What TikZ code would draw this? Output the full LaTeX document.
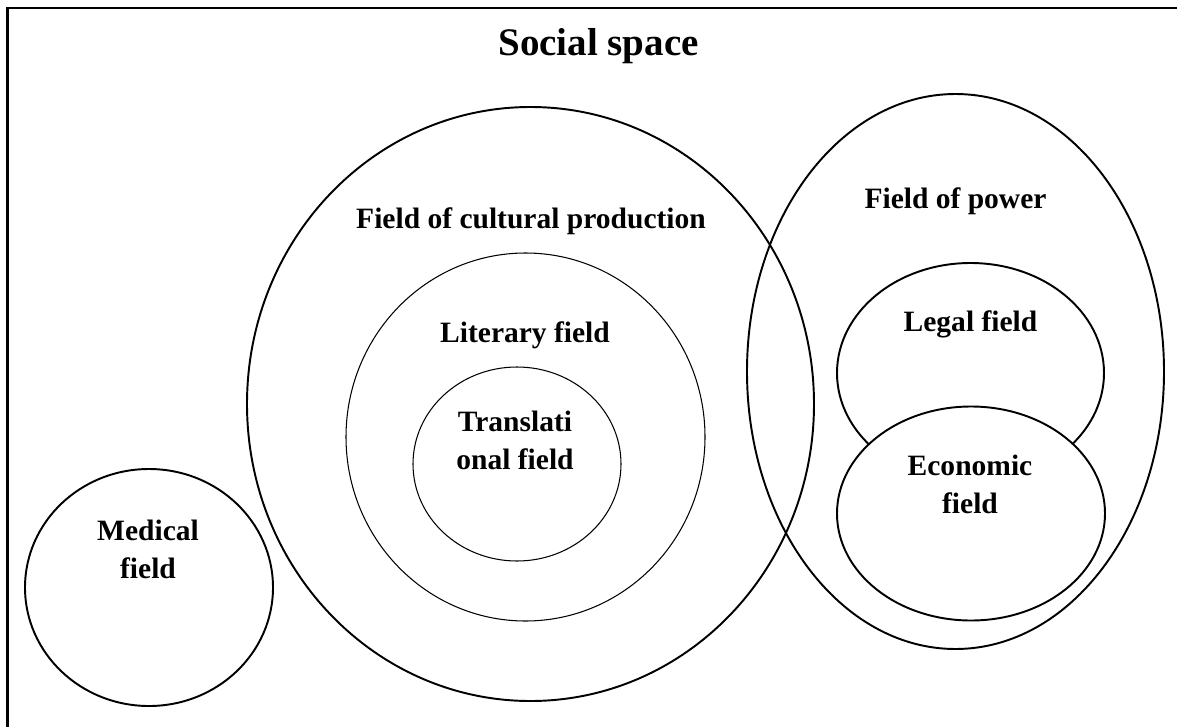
\documentclass[tikz,border=0pt]{standalone}
\usepackage{fontspec}
\setmainfont{Liberation Serif}[Ligatures=CommonOff]

\tikzset{
  field/.style={line width=1.1pt},
  subfield/.style={line width=0.6pt},
  fieldname/.style={font=\bfseries\fontsize{16.8}{21.6}\selectfont,
    align=center, inner sep=0pt, anchor=base},
}

\begin{document}
\begin{tikzpicture}[x=0.02cm, y=-0.02cm]
\useasboundingbox (0,0) rectangle (1177,727);

% frame of the social space (runs off the right and bottom)
\draw[line width=1.2pt] (7.5,727) -- (7.5,8) -- (1177,8);
\node[font=\bfseries\fontsize{22.2}{26}\selectfont, inner sep=0pt,
  anchor=base west] (social) at (498,55) {Social space};

% cultural production, with literary and translational fields inside
\draw[field] (530.5,404) ellipse [x radius=283.5, y radius=297];
\draw[subfield] (525.5,437) ellipse [x radius=179.5, y radius=184];
\draw[subfield] (517,464) ellipse [x radius=104, y radius=97];

\node[fieldname] (cultural) at (531,228) {Field of cultural production};
\node[fieldname] (literary) at (525,342) {Literary field};
% two-line names sit on the baseline of their last line
\node[fieldname] (translational) at (515,469) {Translati\\onal field};

% field of power with legal and economic fields
\draw[field] (955.5,371.5) ellipse [x radius=208.5, y radius=277.5];
\draw[field] (970.5,373) ellipse [x radius=133.5, y radius=110];
\draw[field, fill=white] (971,513.5) ellipse [x radius=134, y radius=107];

\node[fieldname] (power) at (955.5,208) {Field of power};
\node[fieldname] (legal) at (970.5,331) {Legal field};
\node[fieldname] (economic) at (970,513) {Economic\\field};

% medical field, on its own
\draw[field] (149,587.5) ellipse [x radius=124, y radius=118.5];
\node[fieldname] (medical) at (148,578) {Medical\\field};
\end{tikzpicture}
\end{document}
